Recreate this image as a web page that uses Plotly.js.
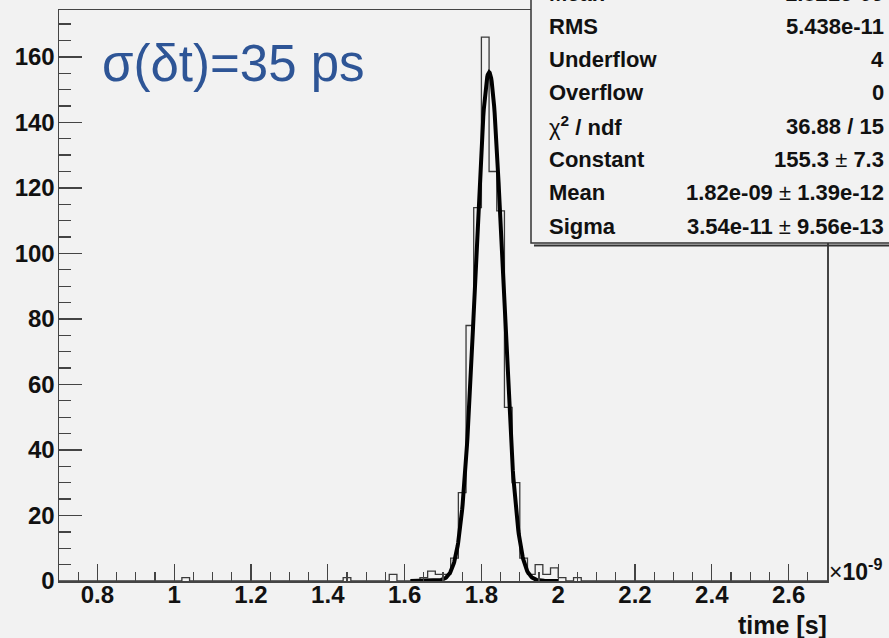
<!DOCTYPE html>
<html>
<head>
<meta charset="utf-8">
<script src="https://cdn.plot.ly/plotly-3.0.1.min.js"></script>
<style>
html,body{margin:0;padding:0;background:#f2f2f2;}
#plot{width:889px;height:638px;}
</style>
</head>
<body>
<div id="plot"></div>
<script>
// ---- data (time in units of 1e-9 s) ----
const binWidth = 0.02;
const histRange = [0.7, 2.7];
const binLow = [1.02, 1.44, 1.56, 1.64, 1.66, 1.68, 1.70, 1.72, 1.74, 1.76, 1.78, 1.80, 1.82, 1.84, 1.86, 1.88, 1.90, 1.92, 1.94, 1.96, 1.98, 2.00, 2.04];
const counts = [1, 1, 2, 1, 3, 2, 2, 7, 27, 78, 114, 166, 125, 113, 53, 30, 7, 2, 5, 2, 4, 1, 1];

// Gaussian fit parameters shown in the stats box
const fitConstant = 155.3;
const fitMean = 1.82;     // x1e-9
const fitSigma = 0.0354;  // x1e-9
const fitRange = [1.615, 2.0];

const statLabels = ["Mean", "RMS", "Underflow", "Overflow", "χ<sup>2</sup> / ndf", "Constant", "Mean", "Sigma"];
const statValues = ["1.821e-09", "5.438e-11", "4", "0", "36.88 / 15", "155.3 ± 7.3", "1.82e-09 ± 1.39e-12", "3.54e-11 ± 9.56e-13"];

const titleText = "σ(δt)=35 ps";
const xTitle = "time [s]";

// ---- build step outline over full histogram range ----
const nBins = Math.round((histRange[1] - histRange[0]) / binWidth);
const full = new Array(nBins).fill(0);
binLow.forEach((lo, i) => {
  const k = Math.round((lo - histRange[0]) / binWidth);
  full[k] = counts[i];
});
const hx = [], hy = [];
for (let k = 0; k < nBins; k++) { hx.push(histRange[0] + k * binWidth); hy.push(full[k]); }
hx.push(histRange[1]); hy.push(full[nBins - 1]);

// fit curve from the fit parameters
const fx = [], fy = [];
const nPts = 300;
for (let i = 0; i <= nPts; i++) {
  const x = fitRange[0] + (fitRange[1] - fitRange[0]) * i / nPts;
  fx.push(x);
  fy.push(fitConstant * Math.exp(-0.5 * Math.pow((x - fitMean) / fitSigma, 2)));
}

const traces = [
  {x: hx, y: hy, type: 'scatter', mode: 'lines', line: {shape: 'hv', color: '#3a3a3a', width: 1.3}, hoverinfo: 'skip'},
  {x: fx, y: fy, type: 'scatter', mode: 'lines', line: {color: '#000', width: 4}, hoverinfo: 'skip'}
];

// pixel helpers for the plot frame (l=59, r=827, t=10, b=581)
const L = 59, R = 827, T = 10, B = 581;
const px = p => (p - L) / (R - L);
const py = p => (B - p) / (B - T);

const fontFam = '"Liberation Sans", Arial, sans-serif';
const annotations = [];
statLabels.forEach((lab, i) => {
  const yc = -7 + 33.3 * i;
  const isChi = lab.indexOf('χ') === 0;
  annotations.push({
    xref: 'paper', yref: 'paper', x: px(547), y: py(yc), xanchor: 'left', yanchor: 'middle',
    text: isChi ? 'χ<b><sup>2</sup> / ndf</b>' : lab, showarrow: false,
    font: {family: fontFam, size: 22, color: '#111', weight: isChi ? 'normal' : 'bold'}
  });
  const v = statValues[i];
  let vt;
  if (v.indexOf(' ± ') >= 0) {
    const parts = v.split(' ± ');
    vt = '<b>' + parts[0] + '</b> ± <b>' + parts[1] + '</b>';
  } else {
    vt = '<b>' + v + '</b>';
  }
  annotations.push({
    xref: 'paper', yref: 'paper', x: px(886), y: py(yc), xanchor: 'right', yanchor: 'middle',
    text: vt, showarrow: false,
    font: {family: fontFam, size: 22, color: '#111', weight: 'normal'}
  });
});
annotations.push({
  xref: 'paper', yref: 'paper', x: px(100), y: py(64), xanchor: 'left', yanchor: 'middle',
  text: titleText, showarrow: false,
  font: {family: fontFam, size: 51, color: '#2e5596'}
});
annotations.push({
  xref: 'paper', yref: 'paper', x: px(827), y: py(570), xanchor: 'left', yanchor: 'middle',
  text: '×<b>10<sup>-9</sup></b>', showarrow: false,
  font: {family: fontFam, size: 23, color: '#111'}
});
annotations.push({
  xref: 'paper', yref: 'paper', x: px(829), y: py(625), xanchor: 'right', yanchor: 'middle',
  text: xTitle, showarrow: false,
  font: {family: fontFam, size: 25, color: '#111', weight: 'bold'}
});

const shapes = [
  {type: 'rect', xref: 'paper', yref: 'paper', x0: px(531), x1: px(900), y0: py(243), y1: py(-20),
   fillcolor: '#f2f2f2', line: {color: '#333', width: 1.5}, layer: 'above'},
  {type: 'line', xref: 'paper', yref: 'paper', x0: px(534), x1: px(900), y0: py(245.5), y1: py(245.5),
   line: {color: '#333', width: 2}, layer: 'above'}
];

const layout = {
  width: 889, height: 638,
  margin: {l: L, r: 889 - R, t: T, b: 638 - B, pad: 0},
  paper_bgcolor: '#f2f2f2', plot_bgcolor: '#f2f2f2',
  showlegend: false,
  font: {family: fontFam, color: '#111'},
  xaxis: {
    range: histRange, showgrid: false, zeroline: false,
    showline: true, linecolor: '#444', linewidth: 1.5, mirror: true,
    ticks: 'inside', tickcolor: '#444', tickwidth: 1.3, ticklen: 17,
    tick0: 0, dtick: 0.2, ticklabelstandoff: -8,
    tickfont: {family: fontFam, size: 24, color: '#111', weight: 'bold'},
    minor: {dtick: 0.05, tick0: 0, ticks: 'inside', ticklen: 9, tickcolor: '#444', tickwidth: 1.3, showgrid: false}
  },
  yaxis: {
    range: [0, 174.3], showgrid: false, zeroline: false,
    showline: true, linecolor: '#444', linewidth: 1.5, mirror: true,
    ticks: 'inside', tickcolor: '#444', tickwidth: 1.3, ticklen: 23,
    tick0: 0, dtick: 20, ticklabelstandoff: -2,
    tickfont: {family: fontFam, size: 24, color: '#111', weight: 'bold'},
    minor: {dtick: 5, tick0: 0, ticks: 'inside', ticklen: 12, tickcolor: '#444', tickwidth: 1.3, showgrid: false}
  },
  annotations: annotations,
  shapes: shapes
};

Plotly.newPlot('plot', traces, layout, {staticPlot: true, displayModeBar: false});
</script>
</body>
</html>
